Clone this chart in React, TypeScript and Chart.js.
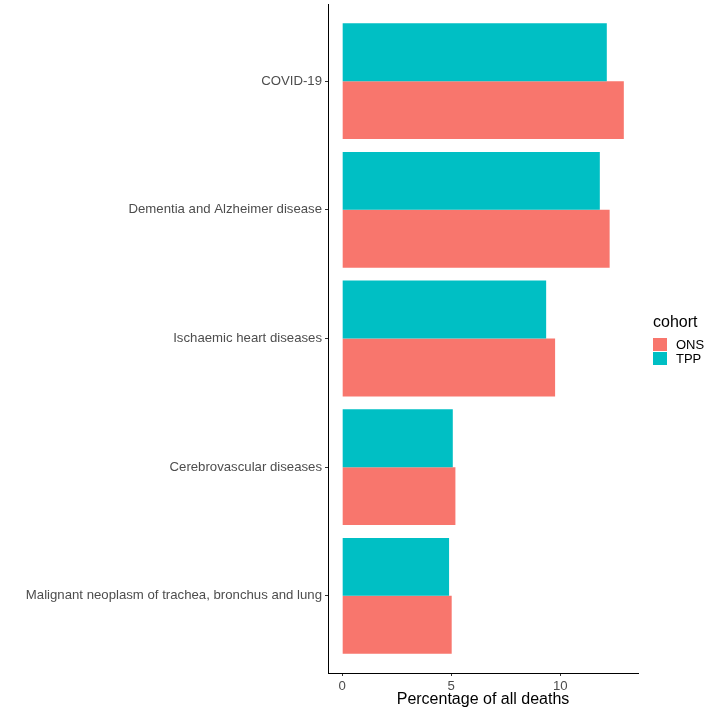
import React, { useEffect, useRef } from "react";
import { Chart, registerables } from "chart.js";

Chart.register(...registerables);

const categories = [
  "COVID-19",
  "Dementia and Alzheimer disease",
  "Ischaemic heart diseases",
  "Cerebrovascular diseases",
  "Malignant neoplasm of trachea, bronchus and lung",
];
const tppValues = [12.13, 11.81, 9.35, 5.07, 4.9];
const onsValues = [12.91, 12.26, 9.76, 5.19, 5.02];
const xTicks = [0, 5, 10];
const legendTitle = "cohort";
const xTitle = "Percentage of all deaths";
const ONS_COLOR = "#F8766D";
const TPP_COLOR = "#00BFC4";
const FONT = "'Liberation Sans', Arial, Helvetica, sans-serif";

export default function App() {
  const ref = useRef<HTMLCanvasElement | null>(null);
  useEffect(() => {
    if (!ref.current) return;
    const chart = new Chart(ref.current, {
      type: "bar",
      data: {
        datasets: [
          {
            label: "TPP",
            data: tppValues.map((v, i) => ({ x: v, y: i })),
            backgroundColor: TPP_COLOR,
            categoryPercentage: 0.9,
            barPercentage: 1,
          },
          {
            label: "ONS",
            data: onsValues.map((v, i) => ({ x: v, y: i })),
            backgroundColor: ONS_COLOR,
            categoryPercentage: 0.9,
            barPercentage: 1,
          },
        ],
      },
      options: {
        indexAxis: "y",
        responsive: false,
        animation: false,
        layout: { padding: { top: 4, right: 76, left: 0, bottom: 0 } },
        plugins: { legend: { display: false }, tooltip: { enabled: false } },
        scales: {
          y: {
            type: "linear",
            offset: false,
            min: -0.6,
            max: categories.length - 1 + 0.6,
            reverse: true,
            afterBuildTicks: (s: any) => {
              s.ticks = categories.map((_, i) => ({ value: i }));
            },
            afterFit: (s: any) => {
              s.width = 328;
              s.paddingTop = 0;
              s.paddingBottom = 0;
            },
            grid: {
              offset: false,
              drawOnChartArea: false,
              drawTicks: true,
              tickLength: 3,
              tickColor: "#333333",
            },
            border: { display: true, color: "#000000", width: 1 },
            ticks: {
              autoSkip: false,
              padding: 3,
              color: "#4D4D4D",
              font: { family: FONT, size: 13.2 },
              callback: (v: any) => categories[Math.round(Number(v))] ?? "",
            },
          },
          x: {
            type: "linear",
            min: -0.65,
            max: 13.56,
            afterBuildTicks: (s: any) => {
              s.ticks = xTicks.map((v) => ({ value: v }));
            },
            afterFit: (s: any) => {
              s.height = 41;
              s.paddingLeft = 0;
              s.paddingRight = 0;
            },
            grid: {
              drawOnChartArea: false,
              drawTicks: true,
              tickLength: 3,
              tickColor: "#333333",
            },
            border: { display: true, color: "#000000", width: 1 },
            ticks: {
              padding: 2,
              color: "#4D4D4D",
              font: { family: FONT, size: 13.2 },
              maxRotation: 0,
            },
            title: {
              display: true,
              text: xTitle,
              color: "#000000",
              font: { family: FONT, size: 16 },
              padding: { top: 0, bottom: 5 },
            },
          },
        },
      },
    });
    return () => chart.destroy();
  }, []);

  const legendItems = [
    { label: "ONS", color: ONS_COLOR },
    { label: "TPP", color: TPP_COLOR },
  ];

  return (
    <div
      style={{
        position: "fixed",
        left: 0,
        top: 0,
        width: 714,
        height: 714,
        background: "#fff",
      }}
    >
      <canvas ref={ref} width={714} height={714} style={{ display: "block" }} />
      <div
        style={{
          position: "absolute",
          left: 653,
          top: 312,
          fontFamily: FONT,
          color: "#000",
        }}
      >
        <div style={{ fontSize: 16, lineHeight: "20px", marginBottom: 5 }}>{legendTitle}</div>
        {legendItems.map((it) => (
          <div
            key={it.label}
            style={{ display: "flex", alignItems: "center", height: 14.5, marginBottom: 0 }}
          >
            <div style={{ width: 14, height: 13, background: it.color, marginRight: 9 }} />
            <span style={{ fontSize: 13, color: "#000" }}>{it.label}</span>
          </div>
        ))}
      </div>
    </div>
  );
}
